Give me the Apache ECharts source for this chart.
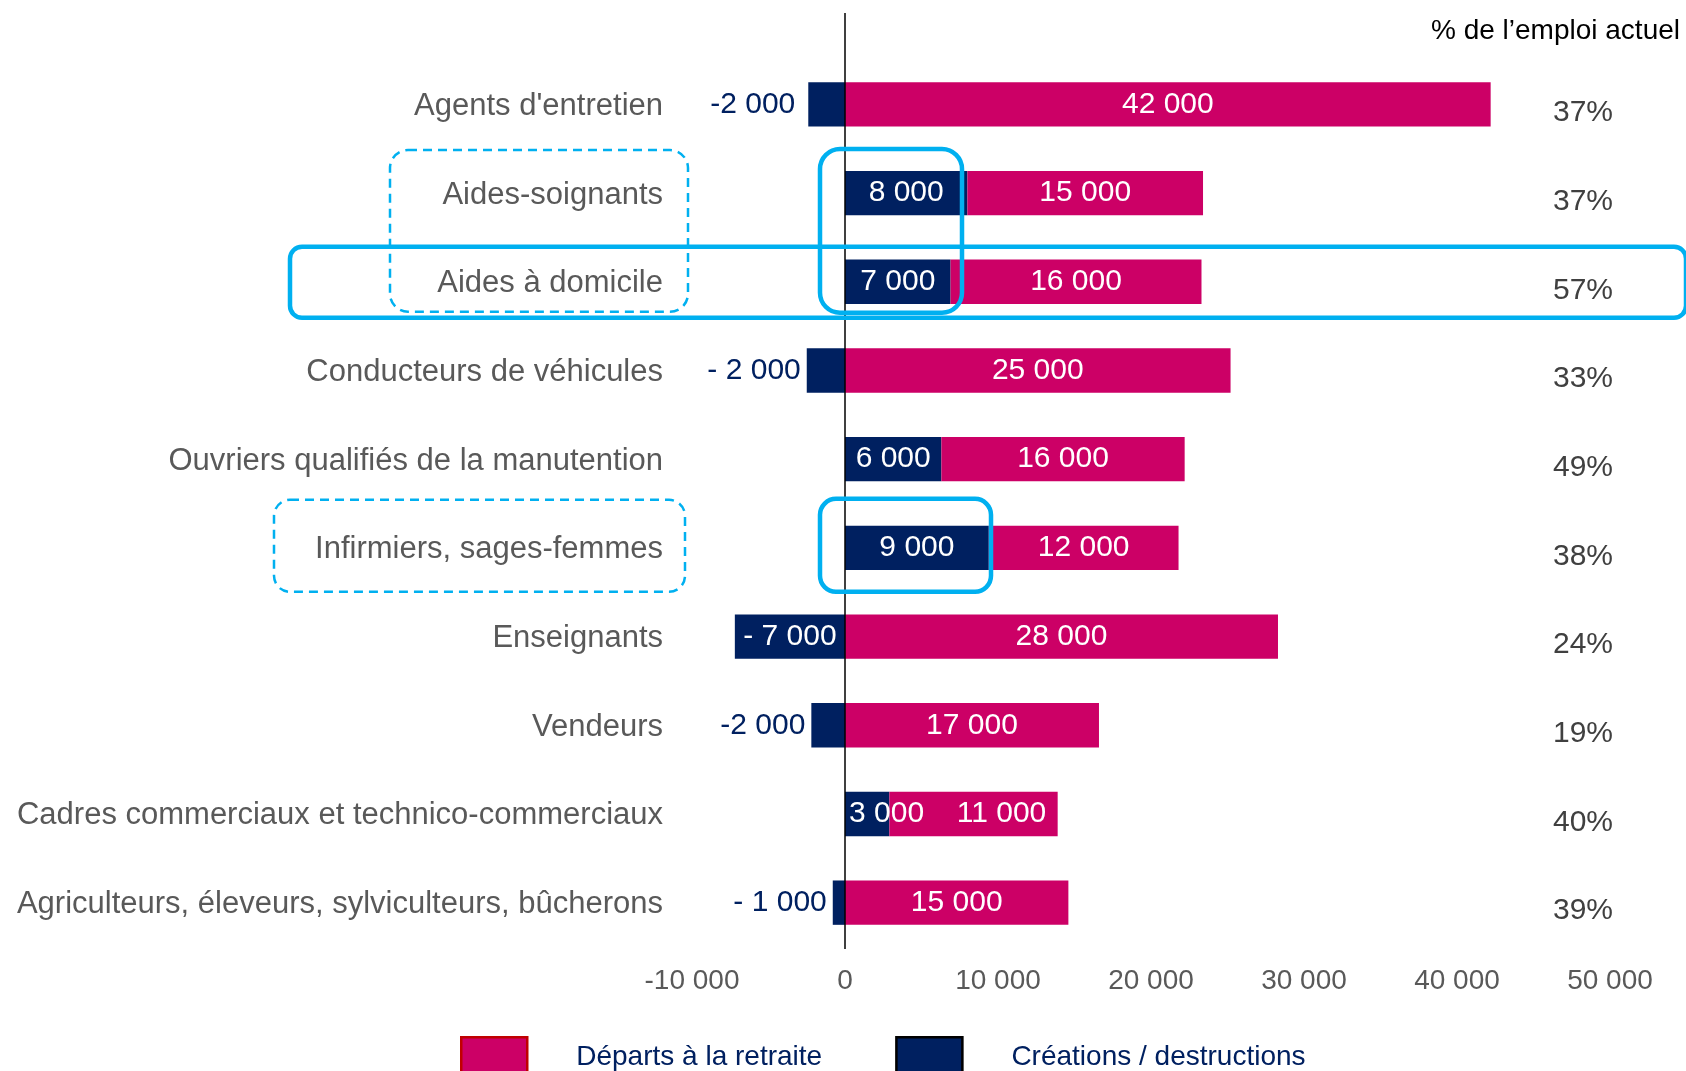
<!DOCTYPE html>
<html>
<head>
<meta charset="utf-8">
<script src="https://cdn.jsdelivr.net/npm/echarts@6/dist/echarts.min.js"></script>
<style>
  html, body { margin: 0; padding: 0; background: #fff; }
  #chart { width: 1686px; height: 1071px; }
</style>
</head>
<body>
<div id="chart"></div>
<script>
// métiers, du haut vers le bas
const categories = [
  "Agents d'entretien",
  'Aides-soignants',
  'Aides à domicile',
  'Conducteurs de véhicules',
  'Ouvriers qualifiés de la manutention',
  'Infirmiers, sages-femmes',
  'Enseignants',
  'Vendeurs',
  'Cadres commerciaux et technico-commerciaux',
  'Agriculteurs, éleveurs, sylviculteurs, bûcherons'
]
const creations = [-2400, 8000, 6900, -2500, 6300, 9400, -7200, -2200, 2900, -800]
const creationLabels = ['-2 000', '8 000', '7 000', '- 2 000', '6 000', '9 000', '- 7 000', '-2 000', '3 000', '- 1 000']
// départs à la retraite
const departs = [42200, 15400, 16400, 25200, 15900, 12400, 28300, 16600, 11000, 14600]
const departLabels = ['42 000', '15 000', '16 000', '25 000', '16 000', '12 000', '28 000', '17 000', '11 000', '15 000']
// % de l'emploi actuel
const pctEmploi = ['37%', '37%', '57%', '33%', '49%', '38%', '24%', '19%', '40%', '39%']

const NAVY = '#002060'
const PINK = '#CC0066'
const FONT = '"Liberation Sans", Arial, sans-serif'

function fmtThousands(v) {
  const s = String(Math.abs(v)).replace(/\B(?=(\d{3})+(?!\d))/g, ' ')
  return (v < 0 ? '-' : '') + s
}

const chart = echarts.init(document.getElementById('chart'))

const creationData = creations.map((v, i) => {
  let label
  if (v < 0 && v > -5000) {
    label = { position: 'left', distance: i === 0 ? 13 : 6, color: NAVY }
  } else if (i === 8) {
    label = { position: 'insideLeft', distance: 4 }
  } else {
    label = { position: 'inside' }
  }
  return { value: v, label: label }
})

const departData = departs.map((v, i) => {
  // le libellé "11 000" est décalé à droite dans l'original
  if (i === 8) return { value: v, label: { offset: [28, 0] } }
  return v
})

chart.setOption({
  animation: false,
  textStyle: { fontFamily: FONT },
  title: {
    text: '% de l\u2019emploi actuel',
    right: 1,
    top: 12,
    textStyle: { color: '#000', fontSize: 28, fontWeight: 'normal', fontFamily: FONT }
  },
  legend: {
    left: 455,
    top: 1031,
    itemWidth: 66,
    itemHeight: 40,
    itemGap: 73,
    icon: 'rect',
    data: [
      { name: 'Départs à la retraite', itemStyle: { color: PINK, borderColor: '#C00000', borderWidth: 2.5 } },
      { name: 'Créations / destructions', itemStyle: { color: NAVY, borderColor: '#000', borderWidth: 2.5 } }
    ],
    textStyle: { color: NAVY, fontSize: 28, fontFamily: FONT, padding: [0, 0, 0, 44] }
  },
  grid: {
    left: 692,
    right: 76,
    top: 60,
    bottom: 124,
    containLabel: false,
    outerBoundsMode: 'none'
  },
  xAxis: {
    type: 'value',
    min: -10000,
    max: 50000,
    interval: 10000,
    axisLine: { show: false },
    axisTick: { show: false },
    splitLine: { show: false },
    axisLabel: {
      color: '#595959',
      fontSize: 28,
      margin: 20,
      fontFamily: FONT,
      formatter: fmtThousands
    }
  },
  yAxis: [
    {
      type: 'category',
      inverse: true,
      data: categories,
      axisLine: { show: false, onZero: false },
      axisTick: { show: false },
      axisLabel: {
        color: '#595959',
        fontSize: 31,
        margin: 29,
        fontFamily: FONT,
        formatter: v => '{c|' + v + '}',
        rich: { c: { color: '#595959', fontSize: 31, fontFamily: FONT, padding: [4, 0, 0, 0] } }
      }
    },
    {
      type: 'category',
      inverse: true,
      position: 'right',
      data: pctEmploi,
      axisLine: { show: false, onZero: false },
      axisTick: { show: false },
      axisLabel: {
        inside: true,
        margin: -3,
        color: '#404040',
        fontSize: 30,
        fontFamily: FONT,
        formatter: v => '{p|' + v + '}',
        rich: { p: { color: '#404040', fontSize: 30, fontFamily: FONT, padding: [17, 0, 0, 0] } }
      }
    }
  ],
  series: [
    {
      name: 'Créations / destructions',
      type: 'bar',
      stack: 'total',
      barWidth: '50%',
      itemStyle: { color: NAVY },
      label: {
        show: true,
        color: '#fff',
        fontSize: 30,
        fontFamily: FONT,
        formatter: p => creationLabels[p.dataIndex]
      },
      data: creationData
    },
    {
      name: 'Départs à la retraite',
      type: 'bar',
      stack: 'total',
      barWidth: '50%',
      itemStyle: { color: PINK },
      label: {
        show: true,
        position: 'inside',
        color: '#fff',
        fontSize: 30,
        fontFamily: FONT,
        formatter: p => departLabels[p.dataIndex]
      },
      data: departData
    }
  ]
})

// ligne du zéro et encadrés
const rowY = i => chart.convertToPixel({ yAxisIndex: 0 }, categories[i])
const x0 = chart.convertToPixel({ xAxisIndex: 0 }, 0)
const gridBottom = 1071 - 124
const BLUE = '#00B0F0'

function box(x, y, w, h, r, dashed) {
  return {
    type: 'rect',
    z: 100,
    silent: true,
    shape: { x: x, y: y, width: w, height: h, r: r },
    style: {
      fill: 'none',
      stroke: BLUE,
      lineWidth: dashed ? 2.5 : 4.5,
      lineDash: dashed ? [9, 6] : null
    }
  }
}

chart.setOption({
  graphic: [
    {
      type: 'line',
      z: 90,
      silent: true,
      shape: { x1: x0, y1: 13, x2: x0, y2: gridBottom + 2 },
      style: { stroke: '#000', lineWidth: 1.5 }
    },
    box(290, rowY(2) - 35, 1396, 71, 12, false),
    box(820, rowY(1) - 44, 142, rowY(2) - rowY(1) + 75, 20, false),
    box(390, rowY(1) - 43, 298, rowY(2) - rowY(1) + 73, 18, true),
    box(274, rowY(5) - 48, 411, 92, 16, true),
    box(820, rowY(5) - 49, 171, 93, 16, false)
  ]
})
</script>
</body>
</html>
